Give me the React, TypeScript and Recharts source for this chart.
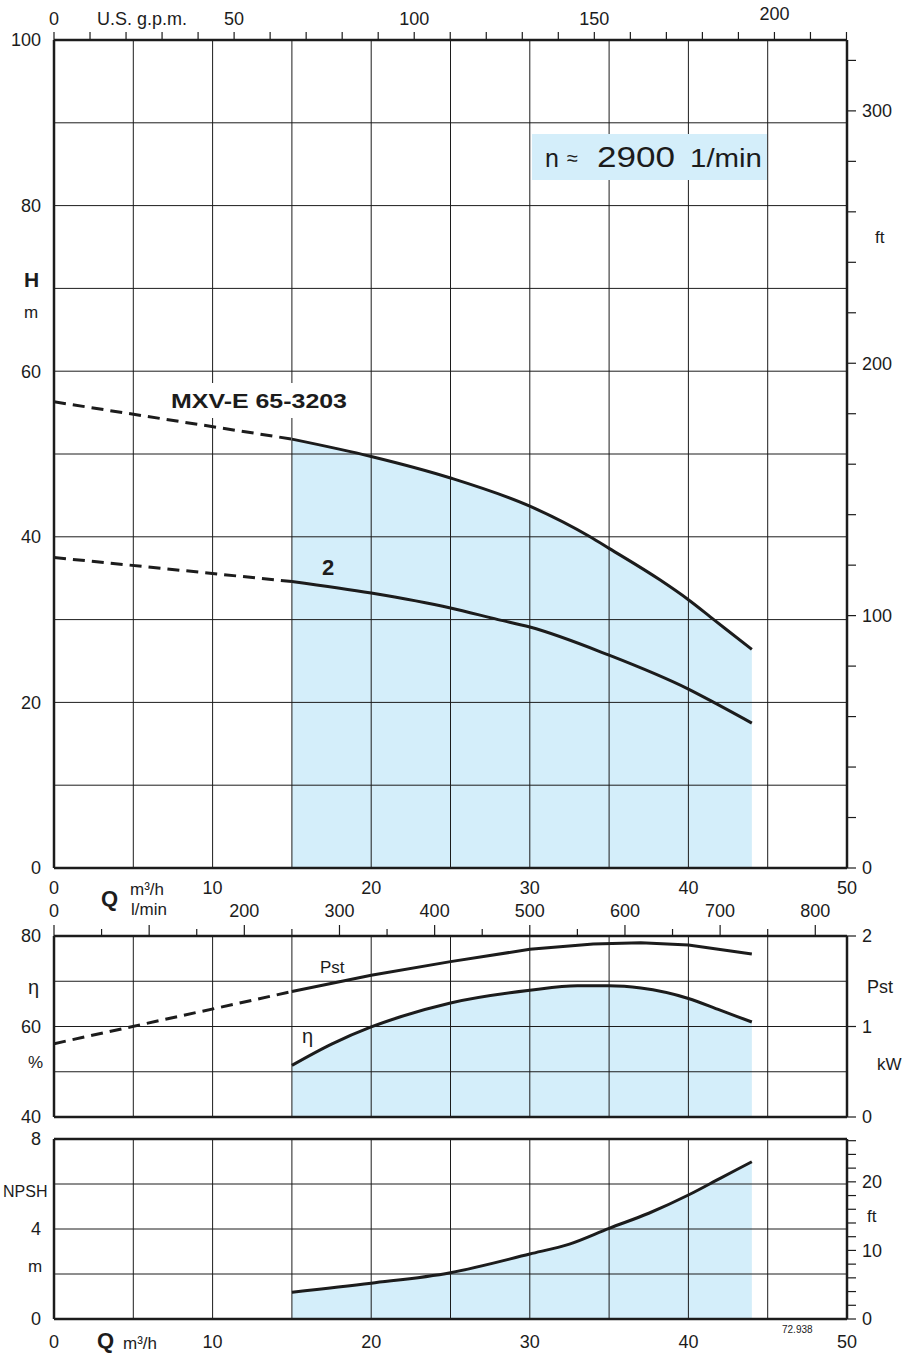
import {
  ComposedChart, Line, Area, XAxis, YAxis, CartesianGrid, ReferenceLine,
} from 'recharts'

const INK = '#1c1c1c'
const FILL = '#d4eefa'
const FONT = '"Liberation Sans", Arial, Helvetica, sans-serif'

const GPM = 4.4029    // US gpm per m3/h
const LMIN = 16.6667  // l/min per m3/h
const FT = 0.3048     // m per ft

// axis ticks
const qTicks = [0, 5, 10, 15, 20, 25, 30, 35, 40, 45, 50]
const gpmTicks = [0, 10, 20, 30, 40, 50, 60, 70, 80, 90, 100, 110, 120, 130, 140, 150, 160, 170, 180, 190, 200, 210, 220]
const lminTicks = [0, 50, 100, 150, 200, 250, 300, 350, 400, 450, 500, 550, 600, 650, 700, 750, 800]
const hTicks = [0, 10, 20, 30, 40, 50, 60, 70, 80, 90, 100]
const hFtTicks = [0, 20, 40, 60, 80, 100, 120, 140, 160, 180, 200, 220, 240, 260, 280, 300, 320]
const etaTicks = [40, 50, 60, 70, 80]
const pstTicks = [0, 1, 2]
const npshTicks = [0, 2, 4, 6, 8]
const npshFtTicks = [0, 2, 4, 6, 8, 10, 12, 14, 16, 18, 20, 22, 24, 26]

// H curve, MXV-E 65-3203
const h1DashQ = [0, 15]
const h1DashH = [56.3, 51.8]
const h1Q = [15, 20, 25, 30, 33.8, 35, 38.2, 40, 41.6, 44]
const h1H = [51.8, 49.7, 47.1, 43.7, 40, 38.6, 34.8, 32.4, 30, 26.4]

// H curve, version 2
const h2DashQ = [0, 15]
const h2DashH = [37.5, 34.6]
const h2Q = [15, 20, 25, 28, 30, 35, 40, 41.6, 44]
const h2H = [34.6, 33.2, 31.4, 30, 29.1, 25.7, 21.6, 20, 17.5]

// efficiency %
const etaQ = [15, 17.5, 20, 21.8, 25, 30, 33, 35, 37, 40, 42, 44]
const etaV = [51.4, 56.1, 59.9, 62.1, 65.2, 68.0, 69.0, 69.0, 68.5, 66.2, 63.6, 61.0]

// shaft power kW
const pstDashQ = [0, 15]
const pstDashV = [0.81, 1.386]
const pstQ = [15, 20, 25, 30, 34, 37, 40, 44]
const pstV = [1.386, 1.566, 1.717, 1.853, 1.912, 1.926, 1.9, 1.8]

// NPSH m
const npshQ = [15, 20, 25, 30, 32.5, 35, 37.5, 40, 42, 44]
const npshV = [1.19, 1.59, 2.06, 2.89, 3.33, 4.03, 4.7, 5.51, 6.25, 6.99]

const zip = (q: number[], v: number[]) => q.map((x, i) => ({ q: x, v: v[i] }))
const scaleQ = (q: number[], k: number) => q.map(x => x * k)

const frame = { stroke: INK, strokeWidth: 2.5 }
const tickStyle = { fill: INK, fontSize: 18 }
const curve = { stroke: INK, strokeWidth: 3, dot: false as const, isAnimationActive: false }
const ghost = { stroke: 'none', strokeOpacity: 0, dot: false as const, isAnimationActive: false, activeDot: false as const }
const dash = '12 7'

const every = (n: number) => (v: number) => (v % n === 0 ? String(v) : '')

const GpmTick = (props: any) => {
  const { x, y, payload } = props
  const v = payload.value as number
  return (
    <g>
      <line x1={x} x2={x} y1={y} y2={y - 8} stroke={INK} strokeWidth={1.2} />
      {v % 50 === 0 && (
        <text x={x} y={y - (v === 200 ? 20 : 15)} textAnchor="middle" fontSize={18} fill={INK}>{v}</text>
      )}
    </g>
  )
}

const LminTick = (props: any) => {
  const { x, y, payload } = props
  const v = payload.value as number
  const major = v % 100 === 0
  return (
    <g>
      <line x1={x} x2={x} y1={y} y2={y - (major ? 11 : 7)} stroke={INK} strokeWidth={1.2} />
      {major && v !== 100 && (
        <text x={x} y={y - 19} textAnchor="middle" fontSize={18} fill={INK}>{v}</text>
      )}
    </g>
  )
}

function HeadChart() {
  return (
    <ComposedChart width={904} height={900} margin={{ top: 0, right: 0, bottom: 0, left: 0 }}>
      <XAxis dataKey="q" type="number" domain={[0, 50]} ticks={qTicks} interval={0} height={32}
        tickLine={false} tickSize={0} tickMargin={13} axisLine={frame} tick={tickStyle}
        tickFormatter={every(10)} allowDataOverflow />
      <XAxis xAxisId="gpm" dataKey="q" orientation="top" type="number" domain={[0, 50 * GPM]} ticks={gpmTicks}
        interval={0} height={40} tickLine={false} tickSize={0} tickMargin={0} axisLine={frame}
        tick={(p: any) => <GpmTick {...p} />} allowDataOverflow />
      <YAxis type="number" domain={[0, 100]} ticks={hTicks} interval={0} width={54}
        tickLine={false} tickSize={0} tickMargin={13} axisLine={frame} tick={tickStyle}
        tickFormatter={every(20)} />
      <YAxis yAxisId="ft" orientation="right" type="number" domain={[0, 100 / FT]} ticks={hFtTicks}
        interval={0} width={57} tickSize={9} tickMargin={6} tickLine={{ stroke: INK, strokeWidth: 1.2 }}
        axisLine={frame} tick={tickStyle} tickFormatter={every(100)} allowDataOverflow />
      <Area data={zip(h1Q, h1H)} dataKey="v" type="monotone" stroke="none" fill={FILL}
        fillOpacity={1} isAnimationActive={false} />
      <CartesianGrid stroke={INK} strokeWidth={1} zIndex={150} />
      <Line xAxisId="gpm" data={zip(scaleQ(h1Q, GPM), h1H)} dataKey="v" {...ghost} />
      <Line data={zip(h1DashQ, h1DashH)} dataKey="v" type="linear" strokeDasharray={dash} {...curve} />
      <Line data={zip(h1Q, h1H)} dataKey="v" type="monotone" {...curve} />
      <Line data={zip(h2DashQ, h2DashH)} dataKey="v" type="linear" strokeDasharray={dash} {...curve} />
      <Line data={zip(h2Q, h2H)} dataKey="v" type="monotone" {...curve} />
    </ComposedChart>
  )
}

function PowerChart() {
  return (
    <ComposedChart width={904} height={240} margin={{ top: 0, right: 0, bottom: 1, left: 0 }}>
      <XAxis dataKey="q" type="number" domain={[0, 50]} ticks={qTicks} interval={0} height={18}
        tickLine={false} tickSize={0} tickMargin={4} axisLine={frame} tick={tickStyle}
        tickFormatter={() => ' '} allowDataOverflow />
      <XAxis xAxisId="lmin" dataKey="q" orientation="top" type="number" domain={[0, 50 * LMIN]} ticks={lminTicks}
        interval={0} height={40} tickLine={false} tickSize={0} tickMargin={0} axisLine={frame}
        tick={(p: any) => <LminTick {...p} />} allowDataOverflow />
      <YAxis type="number" domain={[40, 80]} ticks={etaTicks} interval={0} width={54}
        tickLine={false} tickSize={0} tickMargin={13} axisLine={frame} tick={tickStyle}
        tickFormatter={every(20)} />
      <YAxis yAxisId="pst" orientation="right" type="number" domain={[0, 2]} ticks={pstTicks}
        interval={0} width={57} tickSize={9} tickMargin={6} tickLine={{ stroke: INK, strokeWidth: 1.2 }}
        axisLine={frame} tick={tickStyle} />
      <Area data={zip(etaQ, etaV)} dataKey="v" type="monotone" stroke="none" fill={FILL}
        fillOpacity={1} baseValue={40} isAnimationActive={false} />
      <CartesianGrid stroke={INK} strokeWidth={1} zIndex={150} vertical={false} />
      {qTicks.map(q => (
        <ReferenceLine key={q} x={q} stroke={INK} strokeWidth={1} />
      ))}
      <Line xAxisId="lmin" data={zip(scaleQ(etaQ, LMIN), etaV)} dataKey="v" {...ghost} />
      <Line data={zip(etaQ, etaV)} dataKey="v" type="monotone" {...curve} />
      <Line yAxisId="pst" data={zip(pstDashQ, pstDashV)} dataKey="v" type="linear"
        strokeDasharray={dash} {...curve} />
      <Line yAxisId="pst" data={zip(pstQ, pstV)} dataKey="v" type="linear" {...curve} />
    </ComposedChart>
  )
}

function NpshChart() {
  return (
    <ComposedChart width={904} height={224} margin={{ top: 9, right: 0, bottom: 0, left: 0 }}>
      <XAxis dataKey="q" type="number" domain={[0, 50]} ticks={qTicks} interval={0} height={34}
        tickLine={false} tickSize={0} tickMargin={16} axisLine={frame} tick={tickStyle}
        tickFormatter={every(10)} allowDataOverflow />
      <XAxis xAxisId="top" dataKey="q" orientation="top" type="number" domain={[0, 50]} height={1}
        tick={false} tickLine={false} axisLine={frame} allowDataOverflow />
      <YAxis type="number" domain={[0, 8]} ticks={npshTicks} interval={0} width={54}
        tickLine={false} tickSize={0} tickMargin={13} axisLine={frame} tick={tickStyle}
        tickFormatter={every(4)} />
      <YAxis yAxisId="ft" orientation="right" type="number" domain={[0, 8 / FT]} ticks={npshFtTicks}
        interval={0} width={57} tickSize={9} tickMargin={6} tickLine={{ stroke: INK, strokeWidth: 1.2 }}
        axisLine={frame} tick={tickStyle} tickFormatter={every(10)} allowDataOverflow />
      <Area data={zip(npshQ, npshV)} dataKey="v" type="monotone" stroke="none" fill={FILL}
        fillOpacity={1} isAnimationActive={false} />
      <CartesianGrid stroke={INK} strokeWidth={1} zIndex={150} />
      <Line xAxisId="top" data={zip(npshQ, npshV)} dataKey="v" {...ghost} />
      <Line data={zip(npshQ, npshV)} dataKey="v" type="monotone" {...curve} />
    </ComposedChart>
  )
}

function Labels() {
  const t = { fill: INK, fontFamily: FONT }
  return (
    <svg width={904} height={1353} style={{ position: 'absolute', left: 0, top: 0, pointerEvents: 'none' }}>
      <text x={97} y={25} fontSize={18} {...t}>U.S. g.p.m.</text>
      <text x={24} y={287} fontSize={21} fontWeight="bold" {...t}>H</text>
      <text x={24} y={318} fontSize={17} {...t}>m</text>
      <text x={875} y={243} fontSize={17} {...t}>ft</text>

      <rect x={532} y={134} width={235} height={46} fill={FILL} />
      <text x={545} y={167} fontSize={25} {...t}>n</text>
      <text x={567} y={165} fontSize={20} {...t}>≈</text>
      <text x={597} y={167} fontSize={30} textLength={78} lengthAdjust="spacingAndGlyphs" {...t}>2900</text>
      <text x={690} y={167} fontSize={26} textLength={72} lengthAdjust="spacingAndGlyphs" {...t}>1/min</text>

      <rect x={168} y={383} width={182} height={35} fill="#fff" />
      <text x={171} y={408} fontSize={21} fontWeight="bold" textLength={176} lengthAdjust="spacingAndGlyphs" {...t}>MXV-E 65-3203</text>
      <text x={322} y={575} fontSize={22} fontWeight="bold" {...t}>2</text>

      <text x={101} y={906} fontSize={22} fontWeight="bold" {...t}>Q</text>
      <text x={130} y={895} fontSize={17} {...t}>m³/h</text>
      <text x={131} y={915} fontSize={17} {...t}>l/min</text>

      <text x={320} y={973} fontSize={17} {...t}>Pst</text>
      <text x={302} y={1043} fontSize={20} {...t}>η</text>
      <text x={28} y={994} fontSize={20} {...t}>η</text>
      <text x={28} y={1068} fontSize={17} {...t}>%</text>
      <text x={867} y={993} fontSize={18} {...t}>Pst</text>
      <text x={877} y={1070} fontSize={17} {...t}>kW</text>

      <text x={3} y={1197} fontSize={16} {...t}>NPSH</text>
      <text x={28} y={1272} fontSize={17} {...t}>m</text>
      <text x={867} y={1222} fontSize={17} {...t}>ft</text>
      <text x={782} y={1333} fontSize={10} {...t}>72.938</text>
      <text x={97} y={1348} fontSize={22} fontWeight="bold" {...t}>Q</text>
      <text x={123} y={1349} fontSize={17} {...t}>m³/h</text>
    </svg>
  )
}

export default function App() {
  return (
    <div style={{ position: 'absolute', left: 0, top: 0, width: 904, height: 1353, background: '#fff', fontFamily: FONT }}>
      <div style={{ position: 'absolute', left: 0, top: 0 }}><HeadChart /></div>
      <div style={{ position: 'absolute', left: 0, top: 896 }}><PowerChart /></div>
      <div style={{ position: 'absolute', left: 0, top: 1129 }}><NpshChart /></div>
      <Labels />
    </div>
  )
}
